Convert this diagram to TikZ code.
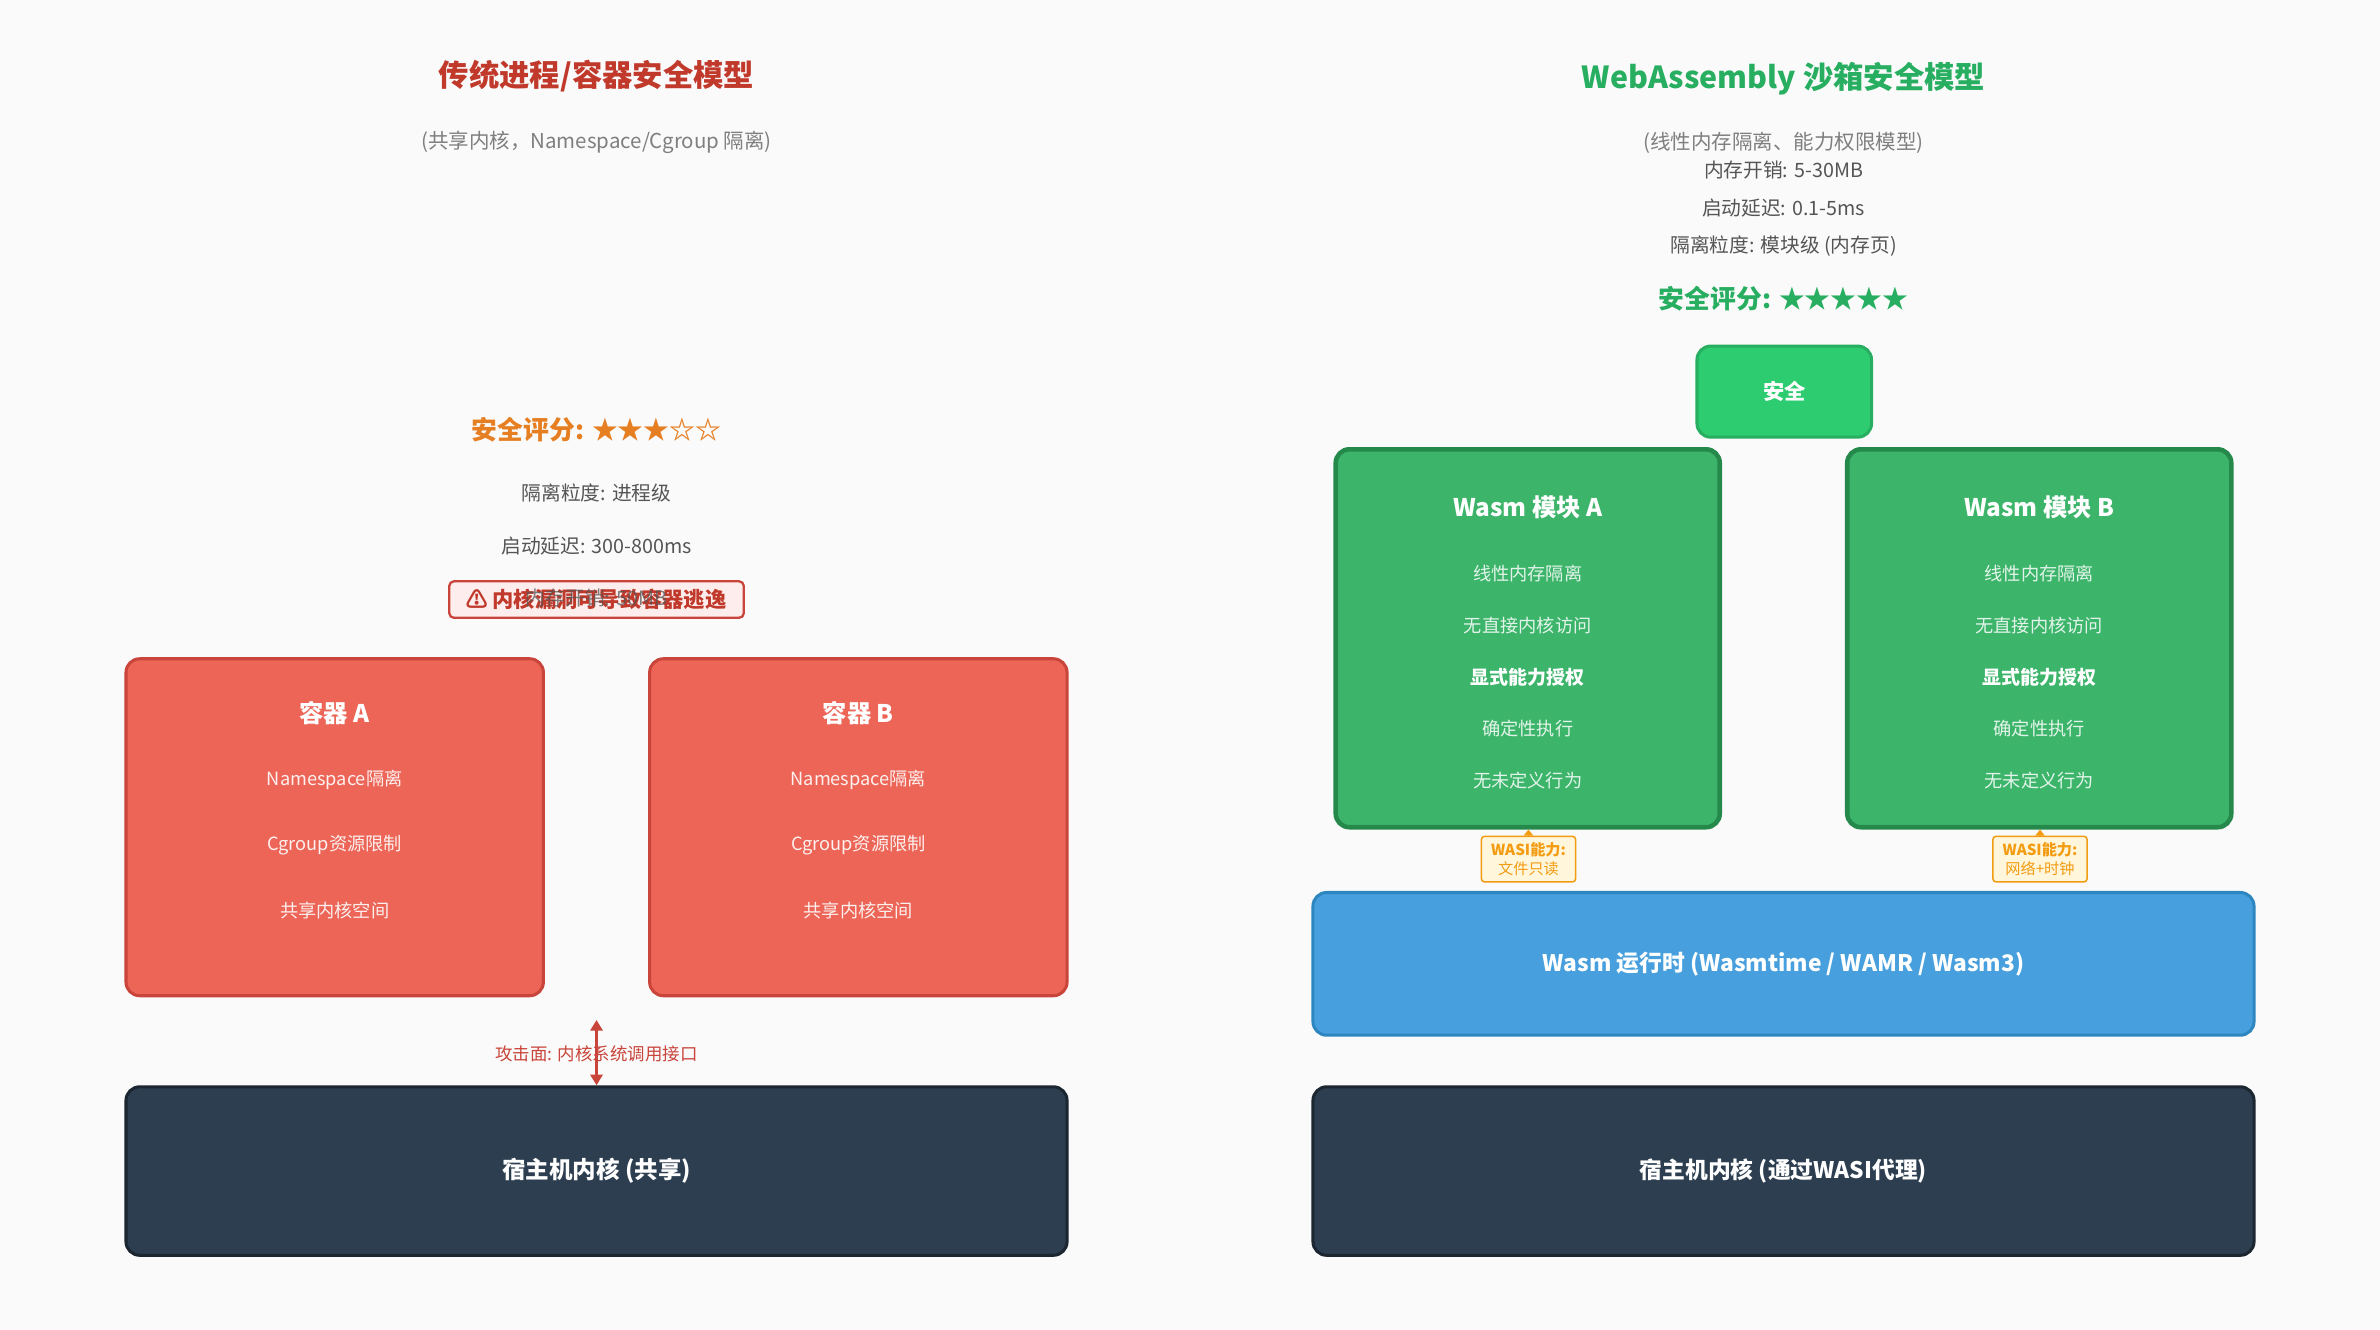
\documentclass[tikz,border=0pt]{standalone}
\usepackage{fontspec}
\setmainfont{Noto Sans CJK SC}
\usetikzlibrary{arrows.meta}
\definecolor{bg}{HTML}{FAFAFA}
\definecolor{redt}{HTML}{C0392B}
\definecolor{gr}{HTML}{7F7F7F}
\definecolor{dg}{HTML}{555555}
\definecolor{org}{HTML}{E67E22}
\definecolor{cfill}{HTML}{EC6557}
\definecolor{cdraw}{HTML}{C9443A}
\definecolor{kfill}{HTML}{2C3E50}
\definecolor{kdraw}{HTML}{1B2631}
\definecolor{grt}{HTML}{27AE60}
\definecolor{mfill}{HTML}{3CB56B}
\definecolor{mdraw}{HTML}{26894C}
\definecolor{sfill}{HTML}{2ECC71}
\definecolor{rfill}{HTML}{47A0DD}
\definecolor{rdraw}{HTML}{2E86C1}
\definecolor{wasi}{HTML}{F39C12}
\definecolor{wfill}{HTML}{FFF6DC}
\definecolor{pink}{HTML}{FDEDEC}
\begin{document}
\begin{tikzpicture}[x=1pt,y=-1pt,
  box/.style={rounded corners=9pt,line width=2pt,inner sep=0pt},
  title/.style={font=\bfseries\fontsize{20}{24}\selectfont},
  sub/.style={text=gr,font=\fontsize{13.5}{16}\selectfont},
  info/.style={text=dg,font=\fontsize{13}{15}\selectfont},
  wl/.style={text=white!90!cfill,font=\fontsize{12}{14}\selectfont},
  btitle/.style={text=white,font=\bfseries\fontsize{16}{18}\selectfont},
  wasil/.style={draw=wasi,fill=wfill,line width=1pt,rounded corners=2pt,text=wasi,font=\bfseries\fontsize{10}{12.5}\selectfont,align=center,inner sep=1pt,minimum width=62pt,minimum height=30pt}]
\fill[bg] (0,0) rectangle (1568,876);
\useasboundingbox (0,0) rectangle (1568,876);
% Left
\node[title,text=redt] (lt) at (393,50) {传统进程/容器安全模型};
\node[sub] (ls) at (393,94) {(共享内核，Namespace/Cgroup 隔离)};
\node[title,text=org,font=\bfseries\fontsize{17}{20}\selectfont] (lsc) at (393,283) {安全评分: ★★★☆☆};
\node[info] (l1) at (393,325) {隔离粒度: 进程级};
\node[info] (l2) at (393,360) {启动延迟: 300-800ms};
\node[draw=cdraw,fill=pink,line width=1.5pt,rounded corners=3pt,text=redt,font=\bfseries\fontsize{14}{16}\selectfont,minimum width=194pt,minimum height=24pt,inner sep=0pt] (warn) at (393,395) {⚠ 内核漏洞可导致容器逃逸};
\node[info,text opacity=0.75] (l3) at (393,394) {内存开销: 50MB};
\foreach \n/\cx/\l in {ca/220.5/A,cb/565.5/B}{
  \node[box,fill=cfill,draw=cdraw,minimum width=275pt,minimum height=222pt] (\n) at (\cx,545) {};
  \node[btitle] at (\cx,470) {容器 \l};
  \node[wl] at (\cx,514) {Namespace隔离};
  \node[wl] at (\cx,557) {Cgroup资源限制};
  \node[wl] at (\cx,600) {共享内核空间};
}
\node[box,fill=kfill,draw=kdraw,minimum width=620pt,minimum height=111pt] (lk) at (393,771.5) {};
\node[btitle,font=\bfseries\fontsize{15.5}{18}\selectfont] at (lk) {宿主机内核 (共享)};
\coordinate (atop) at (393,672);
\draw[cdraw,line width=2pt,{Triangle[length=7pt,width=8pt]}-{Triangle[length=7pt,width=8pt]}] (atop) -- (lk.north);
\node[text=cdraw,font=\fontsize{11.5}{13}\selectfont,inner sep=1pt] (al) at (393,694) {攻击面: 内核系统调用接口};
% Right
\node[title,text=grt] (rt) at (1175,52) {WebAssembly 沙箱安全模型};
\node[sub] (rs) at (1175,94) {(线性内存隔离、能力权限模型)};
\node[info] (r1) at (1175,112) {内存开销: 5-30MB};
\node[info] (r2) at (1175,137) {启动延迟: 0.1-5ms};
\node[info] (r3) at (1175,162) {隔离粒度: 模块级 (内存页)};
\node[title,text=grt,font=\bfseries\fontsize{17}{20}\selectfont] (rsc) at (1175,197) {安全评分: ★★★★★};
\node[box,fill=sfill,draw=grt,minimum width=115pt,minimum height=60pt,text=white,font=\bfseries\fontsize{14}{16}\selectfont] (safe) at (1175.5,258) {安全};
\foreach \n/\cx/\l/\w in {ma/1006.5/A/文件只读,mb/1343.5/B/网络+时钟}{
  \node[box,line width=3pt,fill=mfill,draw=mdraw,minimum width=253pt,minimum height=249pt] (\n) at (\cx,420.5) {};
  \node[btitle] at (\cx,334) {Wasm 模块 \l};
  \node[wl,text=white!85!mfill] at (\cx,378) {线性内存隔离};
  \node[wl,text=white!85!mfill] at (\cx,412) {无直接内核访问};
  \node[wl,text=white,font=\bfseries\fontsize{12.5}{14}\selectfont] at (\cx,446) {显式能力授权};
  \node[wl,text=white!85!mfill] at (\cx,480) {确定性执行};
  \node[wl,text=white!85!mfill] at (\cx,514) {无未定义行为};
  \node[wasil] (\n w) at (\cx+0.5,566) {WASI能力:\\{\mdseries \w}};
  \draw[wasi,line width=1.2pt,-{Triangle[length=4pt,width=6pt]}] (\n w.north) -- (\n w.north |- \n.south);
}
\node[box,fill=rfill,draw=rdraw,minimum width=620pt,minimum height=94pt,text=white,font=\bfseries\fontsize{15}{17}\selectfont] (rt2) at (1175,635) {Wasm 运行时 (Wasmtime / WAMR / Wasm3)};
\node[box,fill=kfill,draw=kdraw,minimum width=620pt,minimum height=111pt,text=white,font=\bfseries\fontsize{15}{17}\selectfont] (rk) at (1175,771.5) {宿主机内核 (通过WASI代理)};
\end{tikzpicture}
\end{document}
